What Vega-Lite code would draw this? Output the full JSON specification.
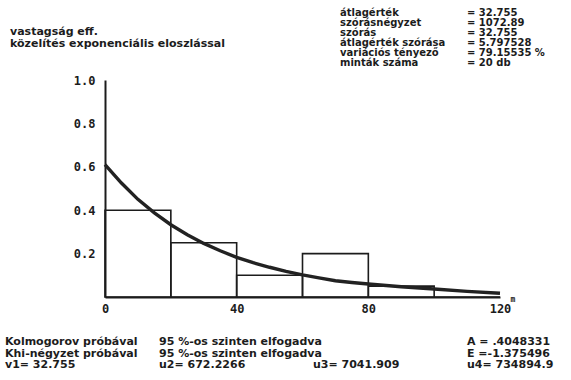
{
  "$schema": "https://vega.github.io/schema/vega-lite/v6.json",
  "width": 395,
  "height": 217,
  "autosize": {"type": "none"},
  "padding": {"left": 105, "top": 80, "right": 71, "bottom": 83},
  "background": "white",
  "config": {
    "view": {"stroke": null},
    "font": "DejaVu Sans",
    "text": {"font": "DejaVu Sans", "fontWeight": "bold", "fontSize": 10, "color": "#1c1c1c"}
  },
  "datasets": {
    "bins": [
      {"bin_start": 0, "bin_end": 20, "freq": 0.4},
      {"bin_start": 20, "bin_end": 40, "freq": 0.25},
      {"bin_start": 40, "bin_end": 60, "freq": 0.1},
      {"bin_start": 60, "bin_end": 80, "freq": 0.2},
      {"bin_start": 80, "bin_end": 100, "freq": 0.05},
      {"bin_start": 100, "bin_end": 120, "freq": 0}
    ],
    "curve": [
      {"n": 0, "density": 0.61},
      {"n": 5, "density": 0.525},
      {"n": 10, "density": 0.45},
      {"n": 15, "density": 0.388},
      {"n": 20, "density": 0.333},
      {"n": 25, "density": 0.287},
      {"n": 30, "density": 0.247},
      {"n": 35, "density": 0.213},
      {"n": 40, "density": 0.183},
      {"n": 45, "density": 0.158},
      {"n": 50, "density": 0.137},
      {"n": 55, "density": 0.118},
      {"n": 60, "density": 0.102},
      {"n": 65, "density": 0.088},
      {"n": 70, "density": 0.075},
      {"n": 75, "density": 0.067},
      {"n": 80, "density": 0.06},
      {"n": 90, "density": 0.047},
      {"n": 100, "density": 0.037},
      {"n": 110, "density": 0.026},
      {"n": 120, "density": 0.017}
    ],
    "caption": [
      {"col": 0, "line": 1, "text": "vastagság eff."},
      {"col": 0, "line": 2, "text": "közelítés exponenciális eloszlással"}
    ],
    "stats": [
      {"col": 0, "line": 1, "text": "átlagérték"},
      {"col": 1, "line": 1, "text": "= 32.755"},
      {"col": 0, "line": 2, "text": "szórásnégyzet"},
      {"col": 1, "line": 2, "text": "= 1072.89"},
      {"col": 0, "line": 3, "text": "szórás"},
      {"col": 1, "line": 3, "text": "= 32.755"},
      {"col": 0, "line": 4, "text": "átlagérték szórása"},
      {"col": 1, "line": 4, "text": "= 5.797528"},
      {"col": 0, "line": 5, "text": "variációs tényező"},
      {"col": 1, "line": 5, "text": "= 79.15535 %"},
      {"col": 0, "line": 6, "text": "minták száma"},
      {"col": 1, "line": 6, "text": "= 20 db"}
    ],
    "tests": [
      {"col": 0, "line": 1, "text": "Kolmogorov próbával"},
      {"col": 1, "line": 1, "text": "95 %-os szinten elfogadva"},
      {"col": 3, "line": 1, "text": "A = .4048331"},
      {"col": 0, "line": 2, "text": "Khi-négyzet próbával"},
      {"col": 1, "line": 2, "text": "95 %-os szinten elfogadva"},
      {"col": 3, "line": 2, "text": "E =-1.375496"},
      {"col": 0, "line": 3, "text": "v1= 32.755"},
      {"col": 1, "line": 3, "text": "u2= 672.2266"},
      {"col": 2, "line": 3, "text": "u3= 7041.909"},
      {"col": 3, "line": 3, "text": "u4= 734894.9"}
    ]
  },
  "layer": [
    {
      "layer": [
        {
          "data": {"name": "bins"},
          "mark": {"type": "rect", "fill": "white", "fillOpacity": 0, "stroke": "#1c1c1c", "strokeWidth": 1.6},
          "encoding": {
            "x": {
              "field": "bin_start", "type": "quantitative",
              "scale": {"domain": [0, 120], "nice": false, "zero": false},
              "axis": {
                "values": [0, 40, 80, 120], "ticks": false, "grid": false,
                "domainColor": "#1c1c1c", "domainWidth": 2,
                "labelFont": "DejaVu Sans Mono", "labelFontWeight": "bold", "labelFontSize": 12,
                "labelColor": "#1c1c1c", "labelPadding": 6, "labelFlush": false,
                "title": "m", "titleFont": "DejaVu Sans Mono", "titleFontSize": 8, "titleFontWeight": "bold",
                "titleColor": "#1c1c1c", "titleAlign": "left", "titleBaseline": "alphabetic",
                "titleX": 405, "titleY": 4
              }
            },
            "x2": {"field": "bin_end"},
            "y": {
              "field": "freq", "type": "quantitative",
              "scale": {"domain": [0, 1], "nice": false},
              "axis": {
                "values": [0.2, 0.4, 0.6, 0.8, 1.0], "format": ".1f", "ticks": false, "grid": false,
                "domainColor": "#1c1c1c", "domainWidth": 2,
                "labelFont": "DejaVu Sans Mono", "labelFontWeight": "bold", "labelFontSize": 12,
                "labelColor": "#1c1c1c", "labelPadding": 10, "title": null
              }
            },
            "y2": {"datum": 0}
          }
        },
        {
          "data": {"name": "curve"},
          "mark": {"type": "line", "color": "#222222", "strokeWidth": 3.4},
          "encoding": {
            "x": {"field": "n", "type": "quantitative"},
            "y": {"field": "density", "type": "quantitative"}
          }
        }
      ]
    },
    {
      "data": {"name": "caption"},
      "mark": {"type": "text", "align": "left", "baseline": "middle", "fontSize": 11},
      "encoding": {
        "text": {"field": "text"},
        "x": {"field": "col", "type": "quantitative", "scale": {"domain": [0, 1], "range": [-95, 0], "nice": false, "zero": false}, "axis": null},
        "y": {"field": "line", "type": "quantitative", "scale": {"domain": [1, 2], "range": [-48, -36], "nice": false, "zero": false}, "axis": null}
      }
    },
    {
      "data": {"name": "stats"},
      "mark": {"type": "text", "align": "left", "baseline": "middle", "fontSize": 10},
      "encoding": {
        "text": {"field": "text"},
        "x": {"field": "col", "type": "quantitative", "scale": {"domain": [0, 1], "range": [235, 362], "nice": false, "zero": false}, "axis": null},
        "y": {"field": "line", "type": "quantitative", "scale": {"domain": [1, 6], "range": [-67, -17], "nice": false, "zero": false}, "axis": null}
      }
    },
    {
      "data": {"name": "tests"},
      "mark": {"type": "text", "align": "left", "baseline": "middle", "fontSize": 11},
      "encoding": {
        "text": {"field": "text"},
        "x": {"field": "col", "type": "quantitative", "scale": {"domain": [0, 3], "range": [-100, 362], "nice": false, "zero": false}, "axis": null},
        "y": {"field": "line", "type": "quantitative", "scale": {"domain": [1, 3], "range": [262, 285], "nice": false, "zero": false}, "axis": null}
      }
    }
  ],
  "resolve": {"scale": {"x": "independent", "y": "independent"}}
}
